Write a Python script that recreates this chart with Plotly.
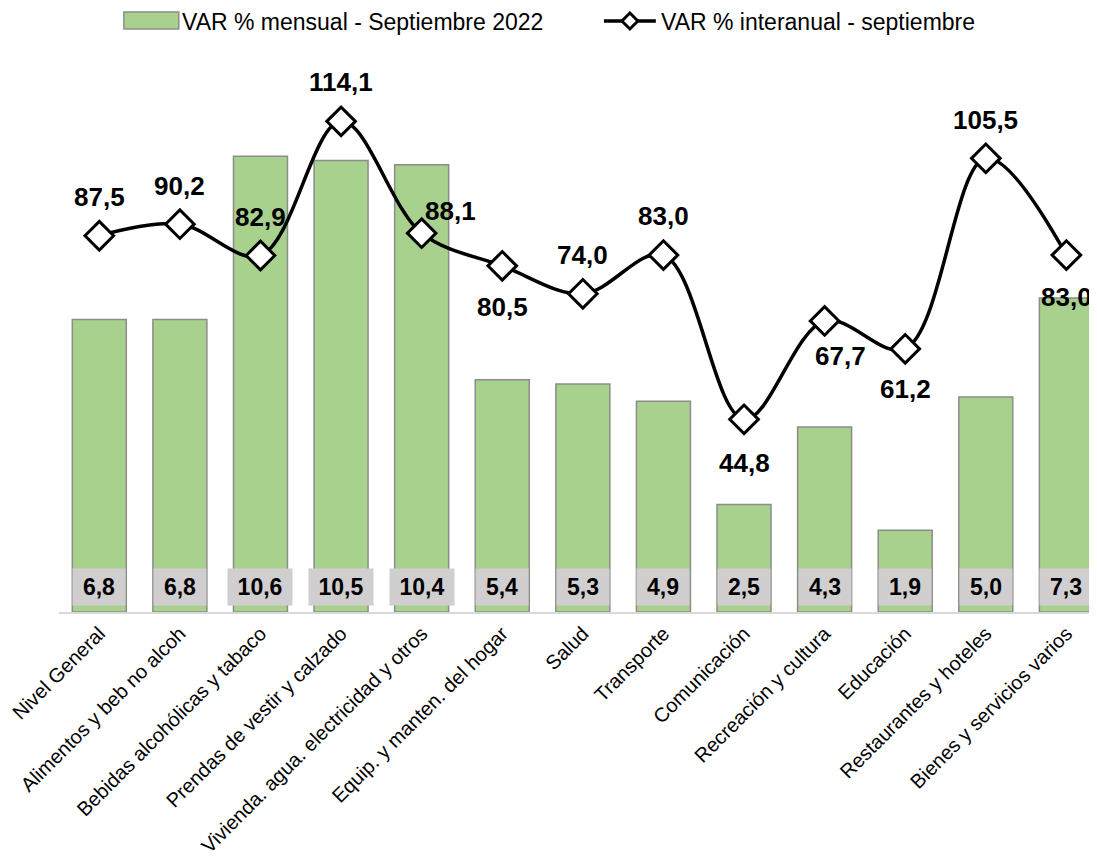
import plotly.graph_objects as go

categories = ["Nivel General", "Alimentos y beb no alcoh", "Bebidas alcohólicas y tabaco",
              "Prendas de vestir y calzado", "Vivienda. agua. electricidad y otros",
              "Equip. y manten. del hogar", "Salud", "Transporte", "Comunicación",
              "Recreación y cultura", "Educación", "Restaurantes y hoteles",
              "Bienes y servicios varios"]
var_mensual = [6.8, 6.8, 10.6, 10.5, 10.4, 5.4, 5.3, 4.9, 2.5, 4.3, 1.9, 5.0, 7.3]
var_interanual = [87.5, 90.2, 82.9, 114.1, 88.1, 80.5, 74.0, 83.0, 44.8, 67.7, 61.2, 105.5, 83.0]
bar_name = "VAR % mensual - Septiembre 2022"
line_name = "VAR % interanual - septiembre"

# label offsets (pixels) for the line labels
line_label_shift = [(0, 39), (0, 38), (0, 39), (0, 39), (29, 22), (0, -41), (0, 39),
                    (0, 39), (0, -44), (16, -35), (0, -40), (0, 38), (0, -42)]

FONT = "Liberation Sans, Arial, sans-serif"
OFF = 8  # page body margin
W, H = 1097 - OFF, 858 - OFF
L, R, T, B = 57 - OFF, 0, 96 - OFF, 246

def fmt(v):
    return f"{v:.1f}".replace(".", ",")

fig = go.Figure()
fig.add_trace(go.Bar(
    x=categories, y=var_mensual, name=bar_name,
    marker=dict(color="#a9d18e", line=dict(color="#8c8c8c", width=1.5)),
    width=0.67, showlegend=False, hoverinfo="x+y",
))
fig.add_trace(go.Scatter(
    x=categories, y=var_interanual, name=line_name, yaxis="y2",
    mode="lines+markers", line=dict(color="black", width=3.5, shape="spline", smoothing=1.0),
    marker=dict(symbol="diamond", size=22, color="white", line=dict(color="black", width=3)),
    showlegend=False,
))

annotations = []
for c, v in zip(categories, var_mensual):
    t = fmt(v)
    annotations.append(dict(
        x=c, y=0, xref="x", yref="y", text=f"<b>{t}</b>", showarrow=False,
        yanchor="middle", yshift=25, bgcolor="#d0cece",
        width=12 * len(t) + 16, height=36, borderpad=0,
        font=dict(family=FONT, size=23, color="black"),
    ))
for c, v, (dx, dy) in zip(categories, var_interanual, line_label_shift):
    annotations.append(dict(
        x=c, y=v, xref="x", yref="y2", text=f"<b>{fmt(v)}</b>", showarrow=False,
        xshift=dx, yshift=dy, font=dict(family=FONT, size=26, color="black"),
    ))

# custom legend (paper coordinates from screenshot pixel positions)
pw, ph = W - L - R, H - T - B
def px(x):
    return (x - OFF - L) / pw
def py(y):
    return (H - B - (y - OFF)) / ph

shapes = [
    dict(type="rect", xref="paper", yref="paper", x0=px(122), x1=px(177), y0=py(29), y1=py(12),
         fillcolor="#a9d18e", line=dict(color="#8c8c8c", width=1.5)),
    dict(type="line", xref="paper", yref="paper", x0=px(603), x1=px(655), y0=py(21), y1=py(21),
         line=dict(color="black", width=3.5)),
    dict(type="path", xref="paper", yref="paper",
         path=f"M {px(629)} {py(13)} L {px(637)} {py(21)} L {px(629)} {py(29)} L {px(621)} {py(21)} Z",
         fillcolor="white", line=dict(color="black", width=3)),
]
annotations += [
    dict(x=px(179), y=py(22), xref="paper", yref="paper", text=bar_name, showarrow=False,
         xanchor="left", yanchor="middle", borderpad=0, font=dict(family=FONT, size=23, color="black")),
    dict(x=px(659), y=py(22), xref="paper", yref="paper", text=line_name, showarrow=False,
         xanchor="left", yanchor="middle", borderpad=0, font=dict(family=FONT, size=23, color="black")),
]

fig.update_layout(
    width=W, height=H, margin=dict(l=L, r=R, t=T, b=B),
    plot_bgcolor="white", paper_bgcolor="white",
    font=dict(family=FONT, color="black"),
    bargap=0.33,
    xaxis=dict(range=[-0.5, 12.38], tickangle=-45, tickfont=dict(family=FONT, size=20, color="black"),
               showline=True, linecolor="#d9d9d9", linewidth=2, ticks="", showgrid=False),
    yaxis=dict(range=[0, 12], visible=False, showgrid=False, zeroline=False),
    yaxis2=dict(range=[0, 120], overlaying="y", side="right", visible=False, showgrid=False,
                zeroline=False),
    annotations=annotations, shapes=shapes, showlegend=False,
)

fig.write_html("out.html")
